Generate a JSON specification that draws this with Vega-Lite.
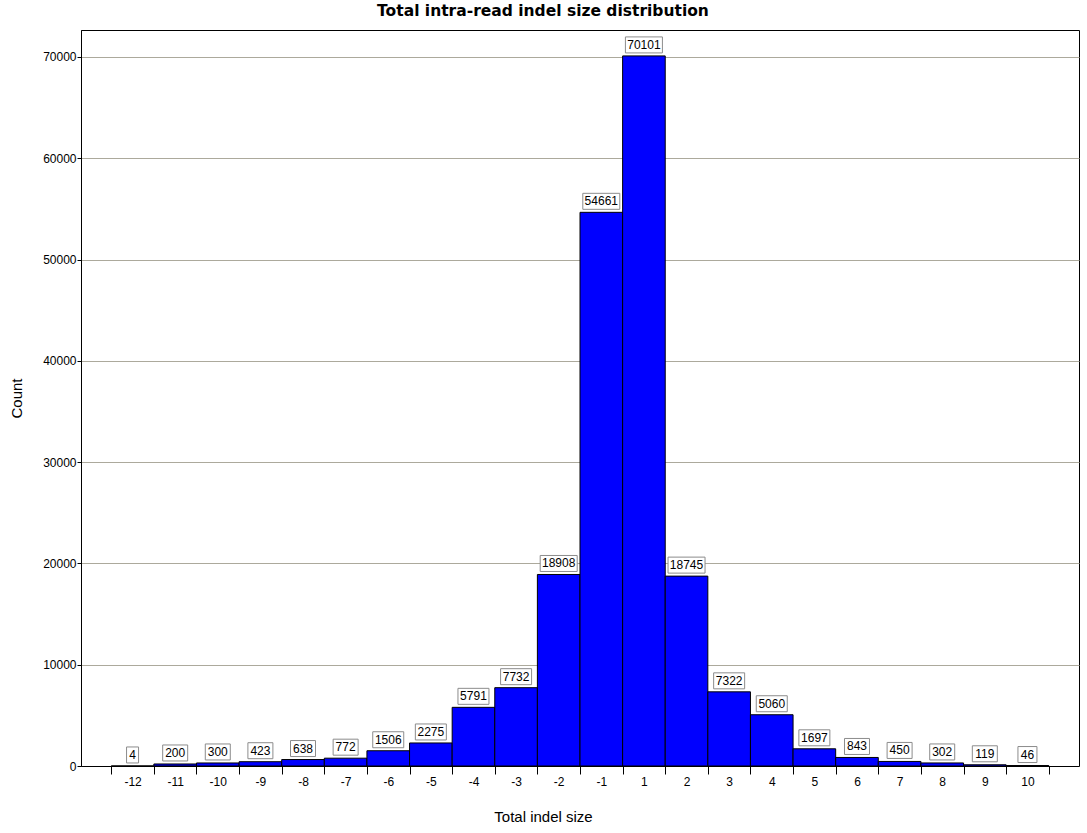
{
  "$schema": "https://vega.github.io/schema/vega-lite/v6.json",
  "autosize": "none",
  "width": 998,
  "height": 736,
  "padding": {"left": 81, "top": 30, "right": 8, "bottom": 67},
  "background": "white",
  "title": {
    "text": "Total intra-read indel size distribution",
    "font": "DejaVu Sans",
    "fontSize": 15.5,
    "fontWeight": "bold",
    "color": "black",
    "anchor": "middle",
    "dx": -37,
    "offset": 11
  },
  "config": {
    "view": {"stroke": "black", "strokeWidth": 1},
    "font": "Liberation Sans"
  },
  "data": {
    "values": [
      {"size": -12, "count": 4},
      {"size": -11, "count": 200},
      {"size": -10, "count": 300},
      {"size": -9, "count": 423},
      {"size": -8, "count": 638},
      {"size": -7, "count": 772},
      {"size": -6, "count": 1506},
      {"size": -5, "count": 2275},
      {"size": -4, "count": 5791},
      {"size": -3, "count": 7732},
      {"size": -2, "count": 18908},
      {"size": -1, "count": 54661},
      {"size": 1, "count": 70101},
      {"size": 2, "count": 18745},
      {"size": 3, "count": 7322},
      {"size": 4, "count": 5060},
      {"size": 5, "count": 1697},
      {"size": 6, "count": 843},
      {"size": 7, "count": 450},
      {"size": 8, "count": 302},
      {"size": 9, "count": 119},
      {"size": 10, "count": 46}
    ]
  },
  "transform": [
    {"calculate": "toString(length(toString(datum.count)))", "as": "digits"}
  ],
  "encoding": {
    "x": {
      "field": "size",
      "type": "ordinal",
      "scale": {"paddingInner": 0, "paddingOuter": 0.71},
      "axis": {
        "title": "Total indel size",
        "titleFont": "Liberation Sans",
        "titleFontSize": 15,
        "titleFontWeight": "normal",
        "titleColor": "black",
        "titleX": 462,
        "titleY": 50,
        "titleBaseline": "middle",
        "labelAngle": 0,
        "labelFontSize": 12,
        "labelColor": "black",
        "labelPadding": 2,
        "tickBand": "extent",
        "tickSize": 8,
        "tickColor": "black",
        "domainColor": "black",
        "grid": false
      }
    },
    "y": {
      "field": "count",
      "type": "quantitative",
      "scale": {"domain": [0, 72660], "nice": false, "zero": true},
      "axis": {
        "title": "Count",
        "titleFont": "Liberation Sans",
        "titleFontSize": 15,
        "titleFontWeight": "normal",
        "titleColor": "black",
        "titleAngle": -90,
        "titleX": -65,
        "titleY": 368,
        "titleAlign": "center",
        "titleBaseline": "middle",
        "values": [0, 10000, 20000, 30000, 40000, 50000, 60000, 70000],
        "format": "d",
        "labelFontSize": 12,
        "labelColor": "black",
        "labelPadding": 1,
        "tickSize": 4,
        "tickColor": "black",
        "domainColor": "black",
        "grid": true,
        "gridColor": "#aca99c"
      }
    }
  },
  "layer": [
    {
      "mark": {"type": "bar", "fill": "#0000ff", "stroke": "black", "strokeWidth": 1}
    },
    {
      "mark": {"type": "point", "filled": true, "fill": "white", "stroke": "#8c8c8c", "strokeWidth": 1, "opacity": 1, "size": 4, "yOffset": -11},
      "encoding": {
        "shape": {
          "field": "digits",
          "type": "nominal",
          "legend": null,
          "scale": {
            "domain": ["1", "2", "3", "4", "5"],
            "range": [
              "M-6,-8H6V8H-6Z",
              "M-9.5,-8H9.5V8H-9.5Z",
              "M-12.5,-8H12.5V8H-12.5Z",
              "M-15.5,-8H15.5V8H-15.5Z",
              "M-18.5,-8H18.5V8H-18.5Z"
            ]
          }
        }
      }
    },
    {
      "mark": {"type": "text", "dy": -11, "baseline": "middle", "align": "center", "fontSize": 12, "color": "black"},
      "encoding": {"text": {"field": "count", "type": "quantitative", "format": "d"}}
    }
  ]
}
